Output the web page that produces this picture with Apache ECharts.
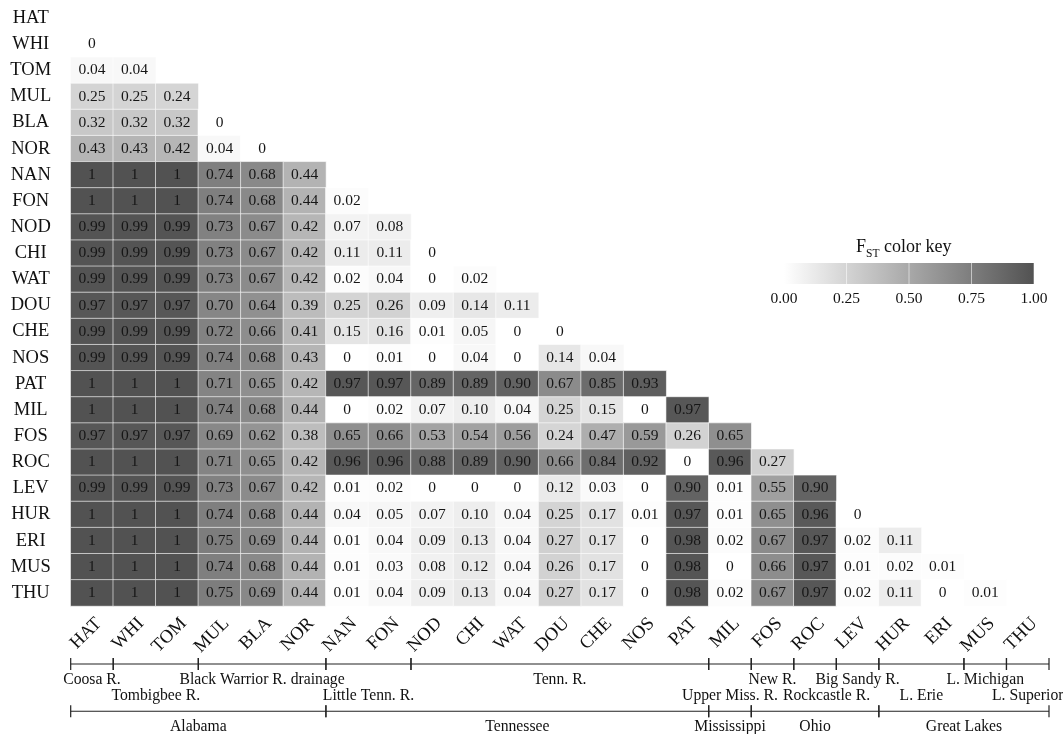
<!DOCTYPE html>
<html>
<head>
<meta charset="utf-8">
<script src="https://cdn.jsdelivr.net/npm/echarts@6/dist/echarts.min.js"></script>
<style>
  html, body { margin: 0; padding: 0; background: #ffffff; }
  #chart { width: 1063px; height: 734px; }
</style>
</head>
<body>
<div id="chart"></div>
<script>
// Populations, in matrix order (rows top-to-bottom, columns left-to-right)
const populations = ['HAT', 'WHI', 'TOM', 'MUL', 'BLA', 'NOR', 'NAN', 'FON', 'NOD', 'CHI', 'WAT', 'DOU',
  'CHE', 'NOS', 'PAT', 'MIL', 'FOS', 'ROC', 'LEV', 'HUR', 'ERI', 'MUS', 'THU'];

// Pairwise FST, lower triangle: row i holds the values against populations 0..i-1
const fstRows = [
  [],
  [0],
  [0.04, 0.04],
  [0.25, 0.25, 0.24],
  [0.32, 0.32, 0.32, 0],
  [0.43, 0.43, 0.42, 0.04, 0],
  [1, 1, 1, 0.74, 0.68, 0.44],
  [1, 1, 1, 0.74, 0.68, 0.44, 0.02],
  [0.99, 0.99, 0.99, 0.73, 0.67, 0.42, 0.07, 0.08],
  [0.99, 0.99, 0.99, 0.73, 0.67, 0.42, 0.11, 0.11, 0],
  [0.99, 0.99, 0.99, 0.73, 0.67, 0.42, 0.02, 0.04, 0, 0.02],
  [0.97, 0.97, 0.97, 0.70, 0.64, 0.39, 0.25, 0.26, 0.09, 0.14, 0.11],
  [0.99, 0.99, 0.99, 0.72, 0.66, 0.41, 0.15, 0.16, 0.01, 0.05, 0, 0],
  [0.99, 0.99, 0.99, 0.74, 0.68, 0.43, 0, 0.01, 0, 0.04, 0, 0.14, 0.04],
  [1, 1, 1, 0.71, 0.65, 0.42, 0.97, 0.97, 0.89, 0.89, 0.90, 0.67, 0.85, 0.93],
  [1, 1, 1, 0.74, 0.68, 0.44, 0, 0.02, 0.07, 0.10, 0.04, 0.25, 0.15, 0, 0.97],
  [0.97, 0.97, 0.97, 0.69, 0.62, 0.38, 0.65, 0.66, 0.53, 0.54, 0.56, 0.24, 0.47, 0.59, 0.26, 0.65],
  [1, 1, 1, 0.71, 0.65, 0.42, 0.96, 0.96, 0.88, 0.89, 0.90, 0.66, 0.84, 0.92, 0, 0.96, 0.27],
  [0.99, 0.99, 0.99, 0.73, 0.67, 0.42, 0.01, 0.02, 0, 0, 0, 0.12, 0.03, 0, 0.90, 0.01, 0.55, 0.90],
  [1, 1, 1, 0.74, 0.68, 0.44, 0.04, 0.05, 0.07, 0.10, 0.04, 0.25, 0.17, 0.01, 0.97, 0.01, 0.65, 0.96, 0],
  [1, 1, 1, 0.75, 0.69, 0.44, 0.01, 0.04, 0.09, 0.13, 0.04, 0.27, 0.17, 0, 0.98, 0.02, 0.67, 0.97, 0.02, 0.11],
  [1, 1, 1, 0.74, 0.68, 0.44, 0.01, 0.03, 0.08, 0.12, 0.04, 0.26, 0.17, 0, 0.98, 0, 0.66, 0.97, 0.01, 0.02, 0.01],
  [1, 1, 1, 0.75, 0.69, 0.44, 0.01, 0.04, 0.09, 0.13, 0.04, 0.27, 0.17, 0, 0.98, 0.02, 0.67, 0.97, 0.02, 0.11, 0, 0.01]
];

// Drainage groupings under the matrix (number of populations in each)
const riverNames = ['Coosa R.', 'Tombigbee R.', 'Black Warrior R. drainage', 'Little Tenn. R.', 'Tenn. R.',
  'Upper Miss. R.', 'New R.', 'Rockcastle R.', 'Big Sandy R.', 'L. Erie', 'L. Michigan', 'L. Superior'];
const riverSizes = [1, 2, 3, 2, 7, 1, 1, 1, 1, 2, 1, 1];
const regionNames = ['Alabama', 'Tennessee', 'Mississippi', 'Ohio', 'Great Lakes'];
const regionSizes = [6, 9, 1, 3, 4];

// Colour key ticks
const keyTicks = [0, 0.25, 0.5, 0.75, 1];

const SERIF = '"Liberation Serif", "DejaVu Serif", "Times New Roman", serif';
const LOW = '#ffffff';
const HIGH = '#525252';
const GROUP_FONT = 15.7;

const cells = [];
fstRows.forEach((row, i) => row.forEach((v, j) => cells.push([j, i, v])));

function fmt(v) {
  return (v === 0 || v === 1) ? String(v) : v.toFixed(2);
}

// Build bracket spans [start, end, lineLevel, labelLevel] with their names
function spans(names, sizes, lineLevel, labelLevel) {
  let start = 0;
  return names.map((n, k) => {
    const s = start;
    start += sizes[k];
    return { name: n, value: [s, start, lineLevel, labelLevel(k)] };
  });
}
const brackets = spans(riverNames, riverSizes, 0, k => (k % 2 === 0 ? 1 : 2))
  .concat(spans(regionNames, regionSizes, 3, () => 4));

// Text width helper, used to keep neighbouring group labels from touching
const measureCtx = document.createElement('canvas').getContext('2d');
function textWidth(str) {
  measureCtx.font = GROUP_FONT + 'px ' + SERIF;
  return measureCtx.measureText(str).width;
}
let rowRight = {};

const chart = echarts.init(document.getElementById('chart'), null, { renderer: 'canvas' });

chart.setOption({
  animation: false,
  backgroundColor: '#ffffff',
  title: {
    text: '{f|F}{s|ST}{f| color key}',
    left: 856,
    top: 234,
    padding: 0,
    textStyle: {
      fontWeight: 'normal',
      rich: {
        f: { fontSize: 18, fontFamily: SERIF, fontWeight: 'normal', color: '#111', lineHeight: 22, verticalAlign: 'bottom' },
        s: { fontSize: 11.5, fontFamily: SERIF, fontWeight: 'normal', color: '#111', lineHeight: 22, verticalAlign: 'bottom', padding: [0, 0, -4, 0] }
      }
    }
  },
  grid: [
    { left: 70.7, right: 14, top: 5, bottom: 128, containLabel: false, outerBoundsMode: 'none' },
    { left: 70.7, right: 14, top: 664, bottom: 7, containLabel: false, outerBoundsMode: 'none' },
    { left: 784, right: 29, top: 263, height: 21, containLabel: false, outerBoundsMode: 'none' }
  ],
  visualMap: {
    show: false,
    type: 'continuous',
    min: 0,
    max: 1,
    seriesIndex: 0,
    inRange: { color: [LOW, HIGH] }
  },
  xAxis: [
    {
      type: 'category', gridIndex: 0, data: populations, position: 'bottom',
      axisLine: { show: false }, axisTick: { show: false }, splitLine: { show: false },
      axisLabel: {
        interval: 0, rotate: 45, margin: 8, verticalAlign: 'top',
        fontSize: 18.5, fontFamily: SERIF, color: '#111'
      }
    },
    { type: 'value', gridIndex: 1, min: 0, max: populations.length, show: false },
    {
      type: 'value', gridIndex: 2, min: 0, max: 1, interval: 0.25,
      axisLine: { show: false }, axisTick: { show: false }, splitLine: { show: false },
      axisLabel: {
        showMinLabel: true, showMaxLabel: true, margin: 7,
        formatter: v => v.toFixed(2), fontSize: 15.5, fontFamily: SERIF, color: '#111'
      }
    }
  ],
  yAxis: [
    {
      type: 'category', gridIndex: 0, data: populations, inverse: true,
      axisLine: { show: false }, axisTick: { show: false }, splitLine: { show: false },
      axisLabel: { interval: 0, align: 'center', margin: 40, fontSize: 18.5, fontFamily: SERIF, color: '#111' }
    },
    { type: 'value', gridIndex: 1, min: 0, max: 4, inverse: true, show: false },
    { type: 'value', gridIndex: 2, min: 0, max: 1, show: false }
  ],
  series: [
    {
      type: 'heatmap',
      xAxisIndex: 0,
      yAxisIndex: 0,
      data: cells,
      itemStyle: { borderColor: 'rgba(255,255,255,0.6)', borderWidth: 1 },
      label: {
        show: true,
        formatter: p => fmt(p.value[2]),
        fontSize: 15.5,
        fontFamily: SERIF,
        color: '#161616'
      },
      emphasis: { disabled: true }
    },
    {
      // group brackets below the matrix
      type: 'custom',
      xAxisIndex: 1,
      yAxisIndex: 1,
      silent: true,
      data: brackets.map(b => b.value),
      renderItem: (params, api) => {
        if (params.dataIndex === 0) rowRight = {};
        const s = api.value(0), e = api.value(1), lv = api.value(2), tl = api.value(3);
        const a = api.coord([s, lv]);
        const b = api.coord([e, lv]);
        const t = api.coord([(s + e) / 2, tl]);
        const name = brackets[params.dataIndex].name;
        const w = textWidth(name);
        let cx = t[0];
        const prev = rowRight[tl];
        if (prev !== undefined && cx - w / 2 < prev + 5) cx = prev + 5 + w / 2;
        rowRight[tl] = cx + w / 2;
        const st = { stroke: '#222', lineWidth: 1.2 };
        return {
          type: 'group',
          children: [
            { type: 'line', shape: { x1: a[0], y1: a[1], x2: b[0], y2: b[1] }, style: st },
            { type: 'line', shape: { x1: a[0], y1: a[1] - 6, x2: a[0], y2: a[1] + 6 }, style: st },
            { type: 'line', shape: { x1: b[0], y1: b[1] - 6, x2: b[0], y2: b[1] + 6 }, style: st },
            {
              type: 'text', x: cx, y: t[1],
              style: {
                text: name, fill: '#111',
                fontSize: GROUP_FONT, fontFamily: SERIF, align: 'center', verticalAlign: 'middle'
              }
            }
          ]
        };
      }
    },
    {
      // colour key bar
      type: 'custom',
      xAxisIndex: 2,
      yAxisIndex: 2,
      silent: true,
      data: [[0, 1]],
      renderItem: (params, api) => {
        const p0 = api.coord([api.value(0), 0]);
        const p1 = api.coord([api.value(1), 1]);
        const children = [{
          type: 'rect',
          shape: { x: p0[0], y: p1[1], width: p1[0] - p0[0], height: p0[1] - p1[1] },
          style: {
            fill: new echarts.graphic.LinearGradient(0, 0, 1, 0, [
              { offset: 0, color: LOW }, { offset: 1, color: HIGH }
            ])
          }
        }];
        keyTicks.slice(1).forEach(v => {
          const q0 = api.coord([v, 0]);
          const q1 = api.coord([v, 1]);
          children.push({
            type: 'line',
            shape: { x1: q0[0], y1: q0[1], x2: q1[0], y2: q1[1] },
            style: { stroke: 'rgba(255,255,255,0.55)', lineWidth: 1 }
          });
        });
        return { type: 'group', children };
      }
    }
  ]
});
</script>
</body>
</html>
